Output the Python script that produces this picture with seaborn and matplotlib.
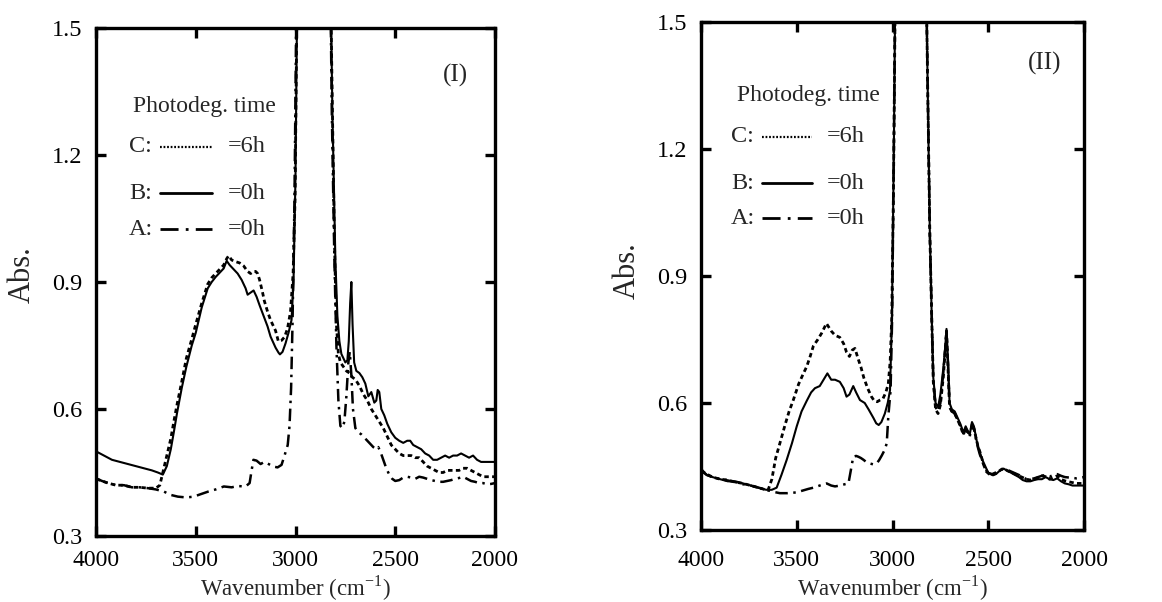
import numpy as np
import pandas as pd
import matplotlib
matplotlib.use("Agg")
import matplotlib.pyplot as plt
import seaborn as sns
from matplotlib.lines import Line2D

# ---------------- data ----------------
# Panel (I)
wn_I_B = [4000, 3960, 3920, 3880, 3840, 3800, 3760, 3720, 3690, 3665, 3645, 3625, 3610, 3594, 3570, 3547,
          3520, 3500, 3470, 3440, 3420, 3400, 3380, 3360, 3345, 3330, 3310, 3290, 3270, 3250, 3240, 3225,
          3210, 3195, 3180, 3160, 3140, 3125, 3100, 3085, 3078, 3065, 3050, 3035, 3020, 3010, 3000, 2985,
          2960, 2920, 2880, 2850, 2830, 2815, 2800, 2790, 2780, 2770, 2760, 2750, 2740, 2733, 2726, 2720,
          2714, 2706, 2695, 2680, 2665, 2650, 2635, 2620, 2605, 2595, 2588, 2580, 2570, 2555, 2540, 2520,
          2500, 2480, 2460, 2440, 2425, 2410, 2390, 2370, 2350, 2330, 2310, 2290, 2270, 2250, 2230, 2210,
          2190, 2170, 2150, 2130, 2110, 2090, 2070, 2050, 2030, 2010, 2000]
abs_I_B = [0.50, 0.49, 0.48, 0.475, 0.47, 0.465, 0.46, 0.455, 0.45, 0.445, 0.465, 0.505, 0.545, 0.59, 0.65, 0.70,
           0.75, 0.78, 0.84, 0.885, 0.90, 0.912, 0.922, 0.932, 0.95, 0.94, 0.93, 0.92, 0.905, 0.885, 0.87, 0.875,
           0.88, 0.865, 0.845, 0.82, 0.795, 0.771, 0.745, 0.733, 0.729, 0.735, 0.755, 0.78, 0.81, 0.90, 1.15, 1.9,
           2.6, 3.0, 2.7, 2.3, 1.8, 1.3, 0.95, 0.82, 0.76, 0.73, 0.72, 0.71, 0.715, 0.76, 0.85, 0.90,
           0.80, 0.71, 0.69, 0.685, 0.675, 0.66, 0.63, 0.64, 0.615, 0.62, 0.645, 0.64, 0.60, 0.585, 0.565, 0.545,
           0.532, 0.525, 0.52, 0.525, 0.525, 0.515, 0.51, 0.505, 0.495, 0.49, 0.48, 0.48, 0.485, 0.49, 0.485, 0.49,
           0.49, 0.495, 0.49, 0.485, 0.49, 0.48, 0.475, 0.475, 0.475, 0.475, 0.475]

wn_I_C = [4000, 3970, 3940, 3900, 3860, 3820, 3780, 3740, 3700, 3680, 3660, 3645, 3625, 3610, 3594, 3570,
          3547, 3520, 3500, 3470, 3440, 3420, 3400, 3380, 3360, 3345, 3335, 3320, 3300, 3280, 3260, 3240,
          3225, 3210, 3200, 3190, 3180, 3165, 3156, 3140, 3125, 3100, 3086, 3070, 3055, 3040, 3025, 3012,
          3002, 2992, 2960, 2920, 2880, 2850, 2830, 2818, 2805, 2795, 2785, 2775, 2760, 2745, 2730, 2715,
          2700, 2680, 2660, 2640, 2620, 2600, 2580, 2560, 2540, 2520, 2500, 2480, 2460, 2440, 2420, 2400,
          2380, 2360, 2340, 2320, 2300, 2280, 2260, 2240, 2220, 2200, 2180, 2160, 2140, 2120, 2100, 2080,
          2060, 2040, 2020, 2000]
abs_I_C = [0.435, 0.43, 0.425, 0.42, 0.42, 0.415, 0.415, 0.413, 0.413, 0.42, 0.46, 0.49, 0.53, 0.57, 0.61, 0.665,
           0.72, 0.765, 0.80, 0.85, 0.895, 0.91, 0.92, 0.93, 0.94, 0.955, 0.962, 0.952, 0.948, 0.945, 0.938, 0.925,
           0.92, 0.925, 0.925, 0.92, 0.905, 0.875, 0.855, 0.83, 0.81, 0.785, 0.76, 0.762, 0.77, 0.79, 0.83, 0.92,
           1.1, 1.6, 2.6, 3.0, 2.7, 2.3, 1.8, 1.4, 1.0, 0.80, 0.73, 0.71, 0.70, 0.69, 0.685, 0.675,
           0.67, 0.655, 0.635, 0.62, 0.60, 0.585, 0.57, 0.555, 0.535, 0.515, 0.505, 0.495, 0.49, 0.49, 0.49, 0.485,
           0.485, 0.475, 0.465, 0.46, 0.455, 0.45, 0.45, 0.455, 0.455, 0.455, 0.455, 0.46, 0.46, 0.455, 0.45, 0.445,
           0.44, 0.44, 0.44, 0.44]

wn_I_A = [4000, 3970, 3940, 3900, 3860, 3820, 3780, 3740, 3700, 3660, 3625, 3590, 3547, 3510, 3480, 3437,
          3400, 3359, 3320, 3290, 3250, 3230, 3220, 3211, 3195, 3175, 3156, 3135, 3110, 3090, 3070, 3055,
          3039, 3030, 3022, 3015, 3005, 2995, 2960, 2920, 2880, 2850, 2830, 2818, 2805, 2795, 2785, 2775,
          2765, 2755, 2745, 2735, 2728, 2720, 2712, 2700, 2685, 2670, 2650, 2630, 2610, 2595, 2585, 2575,
          2560, 2545, 2530, 2515, 2500, 2480, 2460, 2440, 2420, 2400, 2380, 2360, 2340, 2320, 2300, 2280,
          2260, 2240, 2220, 2200, 2180, 2160, 2140, 2120, 2100, 2080, 2060, 2040, 2020, 2000]
abs_I_A = [0.436, 0.43, 0.425, 0.42, 0.42, 0.415, 0.415, 0.413, 0.41, 0.405, 0.397, 0.393, 0.391, 0.393, 0.398, 0.405,
           0.41, 0.417, 0.415, 0.418, 0.417, 0.425, 0.455, 0.48, 0.478, 0.47, 0.475, 0.47, 0.464, 0.462, 0.468, 0.49,
           0.515, 0.56, 0.65, 0.80, 1.1, 1.6, 2.6, 3.0, 2.7, 2.3, 1.8, 1.3, 0.95, 0.75, 0.62, 0.56,
           0.555, 0.57, 0.63, 0.71, 0.735, 0.68, 0.60, 0.555, 0.545, 0.54, 0.53, 0.52, 0.51, 0.505, 0.51, 0.50,
           0.48, 0.46, 0.445, 0.435, 0.43, 0.432, 0.438, 0.44, 0.438, 0.435, 0.44, 0.438, 0.435, 0.432, 0.43, 0.428,
           0.428, 0.43, 0.432, 0.435, 0.437, 0.44, 0.435, 0.43, 0.428, 0.425, 0.425, 0.422, 0.423, 0.425]

# Panel (II)
wn_II_B = [4000, 3970, 3940, 3900, 3860, 3820, 3780, 3740, 3700, 3660, 3630, 3605, 3580, 3553, 3525, 3500,
           3475, 3448, 3425, 3405, 3380, 3360, 3340, 3320, 3300, 3275, 3255, 3240, 3225, 3205, 3190, 3170,
           3145, 3125, 3100, 3085, 3072, 3058, 3040, 3025, 3013, 3003, 2993, 2985, 2960, 2920, 2880, 2850,
           2830, 2818, 2805, 2795, 2787, 2775, 2762, 2750, 2735, 2725, 2718, 2710, 2702, 2690, 2675, 2660,
           2645, 2630, 2618, 2608, 2597, 2585, 2575, 2560, 2545, 2530, 2515, 2500, 2480, 2460, 2440, 2420,
           2400, 2380, 2360, 2340, 2320, 2300, 2280, 2260, 2240, 2220, 2200, 2180, 2160, 2140, 2120, 2100,
           2080, 2060, 2040, 2020, 2000]
abs_II_B = [0.445, 0.43, 0.425, 0.42, 0.415, 0.415, 0.41, 0.405, 0.40, 0.395, 0.395, 0.40, 0.43, 0.465, 0.505, 0.545,
            0.58, 0.605, 0.625, 0.635, 0.64, 0.655, 0.67, 0.655, 0.655, 0.65, 0.635, 0.615, 0.62, 0.64, 0.625, 0.607,
            0.60, 0.585, 0.565, 0.552, 0.548, 0.555, 0.575, 0.60, 0.63, 0.80, 1.2, 1.6, 2.6, 3.0, 2.7, 2.3,
            1.8, 1.4, 1.0, 0.80, 0.66, 0.60, 0.59, 0.62, 0.68, 0.73, 0.775, 0.70, 0.60, 0.585, 0.58, 0.565,
            0.55, 0.53, 0.545, 0.535, 0.525, 0.555, 0.545, 0.51, 0.485, 0.465, 0.45, 0.435, 0.43, 0.432, 0.44, 0.445,
            0.44, 0.435, 0.43, 0.425, 0.418, 0.415, 0.415, 0.418, 0.42, 0.42, 0.425, 0.42, 0.418, 0.422, 0.415, 0.41,
            0.408, 0.405, 0.405, 0.405, 0.405]

wn_II_C = [4000, 3970, 3940, 3900, 3860, 3820, 3780, 3740, 3700, 3670, 3650, 3630, 3610, 3588, 3560, 3540,
           3518, 3490, 3465, 3448, 3430, 3413, 3390, 3370, 3345, 3320, 3300, 3275, 3255, 3240, 3225, 3210,
           3196, 3180, 3165, 3150, 3130, 3110, 3095, 3080, 3065, 3050, 3035, 3022, 3012, 3004, 2995, 2985,
           2960, 2920, 2880, 2850, 2830, 2818, 2805, 2795, 2787, 2775, 2762, 2750, 2735, 2725, 2718, 2710,
           2702, 2690, 2675, 2660, 2645, 2630, 2618, 2605, 2592, 2580, 2570, 2555, 2540, 2525, 2510, 2495,
           2475, 2455, 2435, 2420, 2400, 2380, 2360, 2340, 2320, 2300, 2280, 2260, 2240, 2220, 2200, 2180,
           2160, 2140, 2120, 2100, 2080, 2060, 2040, 2020, 2000]
abs_II_C = [0.44, 0.432, 0.425, 0.42, 0.418, 0.413, 0.41, 0.405, 0.40, 0.396, 0.394, 0.42, 0.47, 0.505, 0.55, 0.58,
            0.607, 0.645, 0.67, 0.686, 0.71, 0.735, 0.75, 0.765, 0.788, 0.77, 0.76, 0.755, 0.74, 0.72, 0.71, 0.725,
            0.729, 0.705, 0.685, 0.66, 0.635, 0.615, 0.605, 0.603, 0.607, 0.61, 0.625, 0.645, 0.70, 0.80, 1.1, 1.6,
            2.6, 3.0, 2.7, 2.3, 1.8, 1.4, 1.0, 0.80, 0.65, 0.585, 0.575, 0.595, 0.66, 0.72, 0.77, 0.68,
            0.59, 0.58, 0.575, 0.56, 0.545, 0.525, 0.54, 0.53, 0.535, 0.55, 0.53, 0.50, 0.48, 0.455, 0.438, 0.432,
            0.43, 0.435, 0.442, 0.446, 0.44, 0.436, 0.432, 0.428, 0.424, 0.42, 0.418, 0.42, 0.424, 0.428, 0.426, 0.42,
            0.424, 0.428, 0.42, 0.416, 0.414, 0.412, 0.41, 0.41, 0.41]

wn_II_A = [4000, 3970, 3940, 3900, 3860, 3820, 3780, 3740, 3700, 3660, 3620, 3588, 3550, 3520, 3500, 3470,
           3440, 3413, 3380, 3360, 3344, 3320, 3300, 3274, 3250, 3230, 3218, 3205, 3190, 3178, 3165, 3152,
           3135, 3117, 3100, 3083, 3070, 3056, 3040, 3030, 3022, 3010, 3002, 2993, 2985, 2960, 2920, 2880,
           2850, 2830, 2818, 2805, 2795, 2787, 2775, 2762, 2750, 2735, 2725, 2718, 2710, 2702, 2690, 2675,
           2660, 2645, 2630, 2618, 2608, 2597, 2585, 2575, 2560, 2545, 2530, 2515, 2500, 2480, 2460, 2440,
           2420, 2400, 2380, 2360, 2340, 2320, 2300, 2280, 2260, 2240, 2220, 2200, 2180, 2160, 2140, 2120,
           2100, 2080, 2060, 2040, 2020, 2000]
abs_II_A = [0.44, 0.43, 0.425, 0.42, 0.417, 0.413, 0.408, 0.405, 0.40, 0.395, 0.39, 0.387, 0.387, 0.388, 0.389, 0.393,
            0.397, 0.40, 0.405, 0.408, 0.41, 0.405, 0.403, 0.405, 0.408, 0.41, 0.44, 0.473, 0.475, 0.473, 0.47, 0.466,
            0.46, 0.457, 0.455, 0.457, 0.465, 0.476, 0.49, 0.505, 0.568, 0.63, 0.80, 1.2, 1.6, 2.6, 3.0, 2.7,
            2.3, 1.8, 1.4, 1.0, 0.80, 0.655, 0.59, 0.58, 0.60, 0.67, 0.725, 0.77, 0.69, 0.595, 0.58, 0.575,
            0.56, 0.545, 0.528, 0.54, 0.53, 0.52, 0.55, 0.54, 0.505, 0.48, 0.46, 0.445, 0.435, 0.432, 0.436, 0.44,
            0.445, 0.442, 0.438, 0.434, 0.43, 0.425, 0.42, 0.42, 0.422, 0.425, 0.428, 0.43, 0.426, 0.43, 0.432, 0.428,
            0.425, 0.424, 0.423, 0.422, 0.423, 0.425]

x_ticks = [4000, 3500, 3000, 2500, 2000]
y_ticks = [0.3, 0.6, 0.9, 1.2, 1.5]
legend_codes = ["C:", "B:", "A:"]
legend_times = ["=6h", "=0h", "=0h"]
panel_tags = ["(I)", "(II)"]

# ---------------- style ----------------
sns.set_theme(style="ticks")
plt.rcParams["font.family"] = ["Liberation Serif", "DejaVu Serif"]
plt.rcParams["mathtext.fontset"] = "custom"
plt.rcParams["mathtext.rm"] = "Liberation Serif"

STY = {
    "C": dict(linestyle=(0, (1.6, 1.2)), linewidth=2.0),
    "B": dict(linestyle="-", linewidth=1.5),
    "A": dict(linestyle=(0, (5.0, 2.2, 1.0, 2.2)), linewidth=1.8),
}
LEG_STY = {
    "C": dict(linestyle=(0, (0.8, 0.8)), linewidth=1.6),
    "B": dict(linestyle="-", linewidth=2.0),
    "A": dict(linestyle=(0, (6.5, 2.6, 1.0, 2.6)), linewidth=2.0),
}

fig = plt.figure(figsize=(11.62, 6.02), dpi=100)
ax1 = fig.add_axes([96 / 1162, 66 / 602, 399 / 1162, 508 / 602])
ax2 = fig.add_axes([701 / 1162, 72 / 602, 383 / 1162, 508 / 602])

panels = [
    (ax1, {"C": (wn_I_C, abs_I_C), "B": (wn_I_B, abs_I_B), "A": (wn_I_A, abs_I_A)},
     dict(title_xy=(0.093, 0.846), rows_y=[0.766, 0.675, 0.604], code_x=0.083,
          line_x=(0.160, 0.291), time_x=0.331, tag_xy=(0.90, 0.907),
          xpad=10.0, xlab_y=-0.1035, ylab_xy=(-0.185, 0.514))),
    (ax2, {"C": (wn_II_C, abs_II_C), "B": (wn_II_B, abs_II_B), "A": (wn_II_A, abs_II_A)},
     dict(title_xy=(0.094, 0.856), rows_y=[0.774, 0.683, 0.614], code_x=0.079,
          line_x=(0.159, 0.290), time_x=0.329, tag_xy=(0.898, 0.919),
          xpad=14.5, xlab_y=-0.115, ylab_xy=(-0.193, 0.51))),
]

for i, (ax, series, lay) in enumerate(panels):
    for key in ["A", "B", "C"]:
        wn, ab = series[key]
        df = pd.DataFrame({"wn": wn, "abs": ab})
        sns.lineplot(data=df, x="wn", y="abs", ax=ax, color="black", estimator=None,
                     sort=False, **STY[key])
    ax.set_xlim(4000, 2000)
    ax.set_ylim(0.3, 1.5)
    ax.set_xticks(x_ticks)
    ax.set_xticklabels([str(t) for t in x_ticks])
    ax.set_yticks(y_ticks)
    ax.set_yticklabels([f"{t:.1f}" for t in y_ticks])
    ax.tick_params(direction="in", length=7, width=2.4, top=True, right=True,
                   labelsize=17, colors="black")
    ax.tick_params(axis="y", pad=10, labelsize=17.5)
    ax.tick_params(axis="x", pad=lay["xpad"])
    for s in ax.spines.values():
        s.set_linewidth(2.4)
        s.set_color("black")
    ax.set_xlabel("Wavenumber (cm$^{\\mathregular{-1}}$)", fontsize=16.5)
    ax.xaxis.set_label_coords(0.5, lay["xlab_y"])
    ax.xaxis.label.set_verticalalignment("center")
    ax.set_ylabel("Abs.", fontsize=22)
    ax.yaxis.set_label_coords(*lay["ylab_xy"])
    ax.yaxis.label.set_verticalalignment("center")

    # legend block
    ax.text(lay["title_xy"][0], lay["title_xy"][1], "Photodeg. time", transform=ax.transAxes,
            fontsize=17, ha="left", va="center")
    for code, tm, y, key in zip(legend_codes, legend_times, lay["rows_y"], ["C", "B", "A"]):
        ax.text(lay["code_x"], y, code, transform=ax.transAxes, fontsize=17.5, ha="left", va="center")
        ax.add_line(Line2D(list(lay["line_x"]), [y, y], transform=ax.transAxes, color="black",
                           **LEG_STY[key]))
        ax.text(lay["time_x"], y, tm, transform=ax.transAxes, fontsize=17.5, ha="left", va="center")
    ax.text(lay["tag_xy"][0], lay["tag_xy"][1], panel_tags[i], transform=ax.transAxes,
            fontsize=18, ha="center", va="center")

fig.savefig("out.png", dpi=100)
